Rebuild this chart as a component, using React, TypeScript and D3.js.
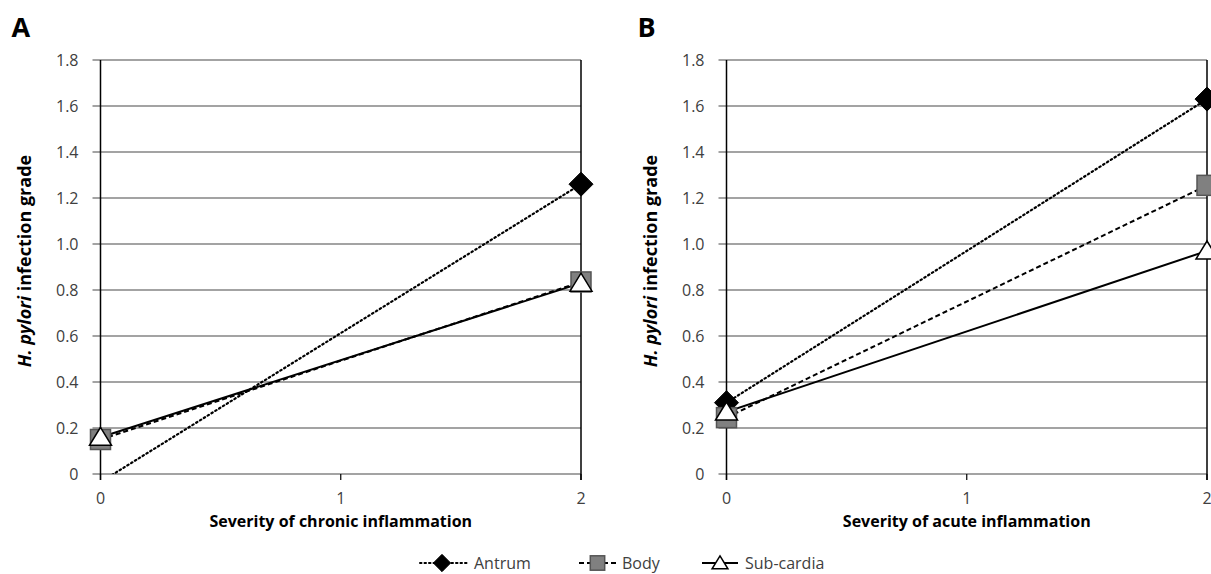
import React from "react";
import * as d3 from "d3";

const categories = [0, 1, 2];
const yTicks = [0, 0.2, 0.4, 0.6, 0.8, 1.0, 1.2, 1.4, 1.6, 1.8];
const yTickLabels = ["0", "0.2", "0.4", "0.6", "0.8", "1.0", "1.2", "1.4", "1.6", "1.8"];
const seriesNames = ["Antrum", "Body", "Sub-cardia"];

// Panel A: x = 0 and x = 2
const chronicAntrum = [-0.035, 1.26];
const chronicBody = [0.15, 0.835];
const chronicSubcardia = [0.16, 0.83];
// Panel B
const acuteAntrum = [0.31, 1.63];
const acuteBody = [0.245, 1.255];
const acuteSubcardia = [0.27, 0.97];

const xPoints = [0, 2];

type Panel = {
  id: string;
  label: string;
  xTitle: string;
  left: number;
  right: number;
  series: number[][];
};

const panels: Panel[] = [
  { id: "A", label: "A", xTitle: "Severity of chronic inflammation", left: 100.5, right: 581, series: [chronicAntrum, chronicBody, chronicSubcardia] },
  { id: "B", label: "B", xTitle: "Severity of acute inflammation", left: 726.5, right: 1207, series: [acuteAntrum, acuteBody, acuteSubcardia] },
];

const top = 60;
const bottom = 474;
const FONT = "'Open Sans', 'Noto Sans', sans-serif";
const dashes = ["1.5 3", "5 3", null];

function Marker({ kind, x, y, s = 1 }: { kind: number; x: number; y: number; s?: number }) {
  if (kind === 0) {
    const r = 12 * s;
    return <path d={`M${x},${y - r}L${x + r},${y}L${x},${y + r}L${x - r},${y}Z`} fill="#000" stroke="#000" strokeWidth={1} />;
  }
  if (kind === 1) {
    const h = 10 * s;
    return <rect x={x - h} y={y - h} width={2 * h} height={2 * h} fill="#808080" stroke="#555" strokeWidth={1.5} />;
  }
  const w = 11 * s;
  const ht = 18 * s;
  return <path d={`M${x},${y - ht * 0.55}L${x + w},${y + ht * 0.45}L${x - w},${y + ht * 0.45}Z`} fill="#fff" stroke="#000" strokeWidth={1.5} />;
}

function PanelChart({ p }: { p: Panel }) {
  const x = d3.scaleLinear().domain([0, 2]).range([p.left, p.right]);
  const y = d3.scaleLinear().domain([0, 1.8]).range([bottom, top]);
  const line = d3.line<number>().x((_, i) => x(xPoints[i])).y((d) => y(d));
  const clipId = `clip-${p.id}`;
  return (
    <g>
      <defs>
        <clipPath id={clipId}>
          <rect x={p.left - 30} y={top - 30} width={p.right - p.left + 60} height={bottom - top + 30} />
        </clipPath>
      </defs>
      <text x={p.left - 89} y={37} fontFamily={FONT} fontWeight={700} fontSize={27} fill="#000">{p.label}</text>
      {yTicks.map((t, i) => (
        <g key={i}>
          <line x1={p.left - 8} x2={p.right} y1={y(t)} y2={y(t)} stroke="#858585" strokeWidth={1.5} />
          <text x={p.left - 22} y={y(t) + 5.5} textAnchor="end" fontFamily={FONT} fontSize={16} fill="#404040">{yTickLabels[i]}</text>
        </g>
      ))}
      <line x1={p.left} x2={p.left} y1={top} y2={bottom + 6} stroke="#000" strokeWidth={1.5} />
      <line x1={p.right} x2={p.right} y1={top} y2={bottom + 6} stroke="#000" strokeWidth={1.5} />
      {categories.map((c) => (
        <g key={c}>
          <line x1={x(c)} x2={x(c)} y1={bottom} y2={bottom + 6} stroke="#000" strokeWidth={1.2} />
          <text x={x(c)} y={504} textAnchor="middle" fontFamily={FONT} fontSize={16} fill="#404040">{c}</text>
        </g>
      ))}
      <text x={(p.left + p.right) / 2} y={527} textAnchor="middle" fontFamily={FONT} fontWeight={700} fontSize={16} fill="#000">{p.xTitle}</text>
      <text transform={`translate(${p.left - 70},${261}) rotate(-90)`} textAnchor="middle" fontFamily={FONT} fontWeight={700} fontSize={18} fill="#000">
        <tspan fontStyle="italic">H. pylori</tspan> infection grade
      </text>
      <g clipPath={`url(#${clipId})`}>
        {p.series.map((s, k) => (
          <path key={k} d={line(s) || ""} fill="none" stroke="#000" strokeWidth={k === 0 ? 2.2 : 2} strokeDasharray={dashes[k] || undefined} strokeLinecap={k === 0 ? "round" : "butt"} />
        ))}
      </g>
      {p.series.map((s, k) =>
        s.map((v, i) => (v >= 0 ? <Marker key={`${k}-${i}`} kind={k} x={x(xPoints[i])} y={y(v)} /> : null))
      )}
    </g>
  );
}

function Legend() {
  const items = [
    { x1: 420, x2: 468, tx: 474 },
    { x1: 579, x2: 616, tx: 622 },
    { x1: 702, x2: 738, tx: 745 },
  ];
  const ly = 563;
  return (
    <g>
      {items.map((it, k) => (
        <g key={k}>
          <line x1={it.x1} x2={it.x2} y1={ly} y2={ly} stroke="#000" strokeWidth={2} strokeDasharray={dashes[k] || undefined} strokeLinecap={k === 0 ? "round" : "butt"} />
          <Marker kind={k} x={(it.x1 + it.x2) / 2 - (k === 0 ? 2 : 0)} y={ly} s={0.72} />
          <text x={it.tx} y={ly + 5.5} fontFamily={FONT} fontSize={16} fill="#404040">{seriesNames[k]}</text>
        </g>
      ))}
    </g>
  );
}

export default function App() {
  return (
    <svg width={1211} height={574} style={{ position: "absolute", left: 0, top: 0, background: "#fff" }}>
      <rect width={1211} height={574} fill="#fff" />
      {panels.map((p) => (
        <PanelChart key={p.id} p={p} />
      ))}
      <Legend />
    </svg>
  );
}
